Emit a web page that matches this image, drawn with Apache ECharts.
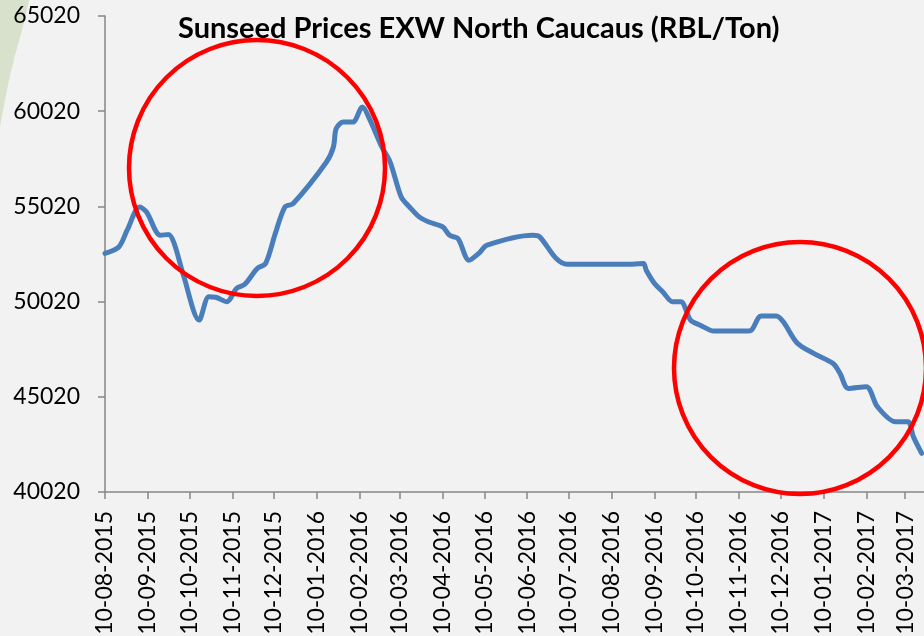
<!DOCTYPE html>
<html>
<head>
<meta charset="utf-8">
<title>Sunseed Prices EXW North Caucaus</title>
<script src="https://cdn.jsdelivr.net/npm/echarts@6/dist/echarts.min.js"></script>
<style>
  html, body { margin: 0; padding: 0; background: #f2f2f2; }
  #chart { width: 924px; height: 636px; }
</style>
</head>
<body>
<div id="chart"></div>
<script>
// price readings (RBL/Ton)
var dates = [
  '2015-08-10', '2015-08-20', '2015-08-26', '2015-09-04', '2015-09-09', '2015-09-19',
  '2015-09-25', '2015-09-29', '2015-10-06', '2015-10-17', '2015-10-24', '2015-10-29',
  '2015-11-06', '2015-11-13', '2015-11-19', '2015-11-28', '2015-12-04', '2015-12-11',
  '2015-12-18', '2015-12-24', '2016-01-17', '2016-01-22', '2016-01-24', '2016-01-29',
  '2016-02-05', '2016-02-12', '2016-02-17', '2016-02-26', '2016-03-03', '2016-03-11',
  '2016-03-17', '2016-03-24', '2016-03-31', '2016-04-10', '2016-04-15', '2016-04-21',
  '2016-04-29', '2016-05-06', '2016-05-12', '2016-06-14', '2016-06-19', '2016-07-01',
  '2016-07-09', '2016-08-25', '2016-09-02', '2016-09-04', '2016-09-10', '2016-09-16',
  '2016-09-23', '2016-09-29', '2016-10-06', '2016-10-13', '2016-10-23', '2016-11-15',
  '2016-11-19', '2016-11-26', '2016-12-07', '2016-12-12', '2016-12-22', '2017-01-03',
  '2017-01-17', '2017-01-22', '2017-01-28', '2017-02-10', '2017-02-18', '2017-03-03',
  '2017-03-12', '2017-03-16', '2017-03-22'
];
var prices = [
  52550, 52890, 53770, 54990, 54730, 53500,
  53550, 53070, 51320, 49050, 50270, 50250,
  50010, 50710, 50930, 51760, 52020, 53590,
  54990, 55170, 57350, 58140, 59100, 59450,
  59450, 60240, 59630, 58140, 57350, 55510,
  54990, 54470, 54200, 53940, 53500, 53330,
  52190, 52550, 52980, 53500, 53420, 52280,
  51980, 51980, 52020, 51670, 50970, 50530,
  50010, 50010, 49050, 48780, 48470, 48470,
  48520, 49260, 49260, 48960, 47850, 47300,
  46770, 46250, 45460, 45550, 44500, 43710,
  43710, 42920, 42050
];
// tick labels on the 10th of each month
var tickDates = [
  '2015-08-10', '2015-09-10', '2015-10-10', '2015-11-10', '2015-12-10', '2016-01-10',
  '2016-02-10', '2016-03-10', '2016-04-10', '2016-05-10', '2016-06-10', '2016-07-10',
  '2016-08-10', '2016-09-10', '2016-10-10', '2016-11-10', '2016-12-10', '2017-01-10',
  '2017-02-10', '2017-03-10', '2017-04-10'
];
var yTicks = [40020, 45020, 50020, 55020, 60020, 65020];

function toTime(s) {
  var p = s.split('-');
  return Date.UTC(+p[0], +p[1] - 1, +p[2]);
}
function pad(n) { return n < 10 ? '0' + n : '' + n; }

var seriesData = [];
for (var i = 0; i < dates.length; i++) {
  seriesData.push([toTime(dates[i]), prices[i]]);
}
var tickTimes = tickDates.map(toTime);

var chart = echarts.init(document.getElementById('chart'));
var option = {
  backgroundColor: '#f2f2f2',
  animation: false,
  title: {
    text: 'Sunseed Prices EXW North Caucaus (RBL/Ton)',
    left: 173,
    top: 9,
    textStyle: {
      fontFamily: 'Lato',
      fontWeight: 'bold',
      fontSize: 29,
      color: '#000'
    }
  },
  grid: {
    left: 105,
    top: 16,
    width: 843,
    height: 476,
    outerBoundsMode: 'none',
    containLabel: false
  },
  xAxis: {
    type: 'value',
    min: tickTimes[0],
    max: tickTimes[tickTimes.length - 1],
    axisLine: { show: true, onZero: false, lineStyle: { color: '#868686', width: 1.5 } },
    axisTick: {
      show: true,
      customValues: tickTimes,
      length: 7,
      lineStyle: { color: '#868686', width: 1.5 }
    },
    axisLabel: {
      customValues: tickTimes,
      rotate: 90,
      margin: 19,
      fontFamily: 'Lato',
      fontSize: 23,
      color: '#000',
      formatter: function (v) {
        var d = new Date(v);
        return pad(d.getUTCDate()) + '-' + pad(d.getUTCMonth() + 1) + '-' + d.getUTCFullYear();
      }
    },
    splitLine: { show: false }
  },
  yAxis: {
    type: 'value',
    min: yTicks[0],
    max: yTicks[yTicks.length - 1],
    interval: 5000,
    axisLine: { show: true, lineStyle: { color: '#868686', width: 1.5 } },
    axisTick: { show: true, length: 7, lineStyle: { color: '#868686', width: 1.5 } },
    axisLabel: {
      margin: 25,
      fontFamily: 'Lato',
      fontSize: 23,
      color: '#000',
      formatter: function (v) { return String(v); }
    },
    splitLine: { show: false }
  },
  series: [{
    name: 'Sunseed',
    type: 'line',
    data: seriesData,
    smooth: 0.3,
    showSymbol: false,
    clip: false,
    lineStyle: { color: '#4a7ebb', width: 5, cap: 'round', join: 'round' }
  }],
  graphic: [
    {
      type: 'polygon',
      z: -1,
      shape: { points: [[0, 0], [29, 0], [22, 30], [15, 55], [9, 80], [4, 105], [0, 127]] },
      style: { fill: '#d8e1cb' }
    },
    {
      type: 'circle',
      shape: { cx: 257, cy: 168, r: 128 },
      style: { fill: 'none', stroke: '#ff0000', lineWidth: 4.5 },
      z: 10
    },
    {
      type: 'circle',
      shape: { cx: 800, cy: 368, r: 126 },
      style: { fill: 'none', stroke: '#ff0000', lineWidth: 4.5 },
      z: 10
    }
  ]
};
chart.setOption(option);
</script>
</body>
</html>
